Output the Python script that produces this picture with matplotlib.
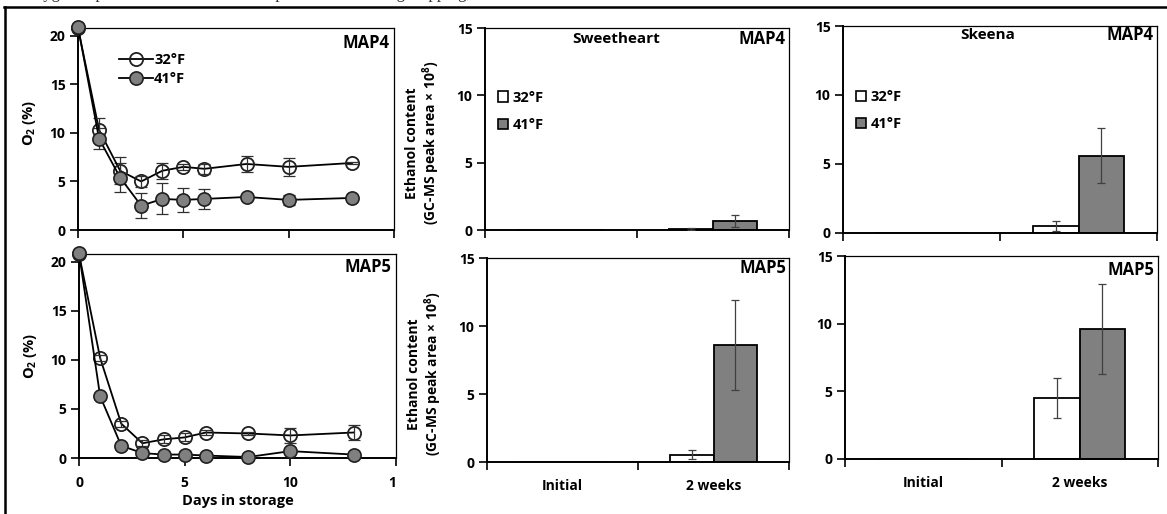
import matplotlib.pyplot as plt
from matplotlib.patches import Patch, Rectangle
from matplotlib.lines import Line2D

plt.rcParams['font.family'] = ['Open Sans', 'DejaVu Sans']
plt.rcParams['font.weight'] = 'bold'
plt.rcParams['axes.labelweight'] = 'bold'
plt.rcParams['mathtext.fontset'] = 'custom'
plt.rcParams['mathtext.rm'] = 'Open Sans:bold'
plt.rcParams['mathtext.it'] = 'Open Sans:bold'
plt.rcParams['mathtext.bf'] = 'Open Sans:bold'

# O2 inside the bags over storage time
days = [0, 1, 2, 3, 4, 5, 6, 8, 10, 13]
map4_32 = [20.8, 10.3, 6.1, 5.0, 6.1, 6.5, 6.3, 6.8, 6.5, 6.9]
map4_32_err = [0.1, 1.2, 1.4, 0.6, 0.8, 0.3, 0.5, 0.8, 0.9, 0.1]
map4_41 = [20.9, 9.4, 5.4, 2.5, 3.2, 3.1, 3.2, 3.4, 3.1, 3.3]
map4_41_err = [0.1, 1.1, 1.5, 1.3, 1.6, 1.2, 1.0, 0.2, 0.5, 0.1]
map5_32 = [20.8, 10.2, 3.5, 1.5, 1.9, 2.1, 2.6, 2.5, 2.3, 2.6]
map5_32_err = [0.1, 0.3, 0.3, 0.3, 0.4, 0.4, 0.3, 0.2, 0.8, 0.8]
map5_41 = [20.9, 6.3, 1.25, 0.5, 0.35, 0.35, 0.25, 0.1, 0.7, 0.35]
map5_41_err = [0.1, 0.2, 0.2, 0.1, 0.1, 0.1, 0.1, 0.1, 0.2, 0.1]

# ethanol content, initial vs 2 weeks
periods = ['Initial', '2 weeks']
sw_map4_32 = [0, 0.08]
sw_map4_32_err = [0, 0.05]
sw_map4_41 = [0, 0.65]
sw_map4_41_err = [0, 0.45]
sw_map5_32 = [0, 0.55]
sw_map5_32_err = [0, 0.3]
sw_map5_41 = [0, 8.6]
sw_map5_41_err = [0, 3.3]
sk_map4_32 = [0, 0.53]
sk_map4_32_err = [0, 0.37]
sk_map4_41 = [0, 5.6]
sk_map4_41_err = [0, 2.0]
sk_map5_32 = [0, 4.5]
sk_map5_32_err = [0, 1.5]
sk_map5_41 = [0, 9.6]
sk_map5_41_err = [0, 3.3]

W, H = 1167, 514
fig = plt.figure(figsize=(W / 100, H / 100), dpi=100)

TICK_FS = 10
LABEL_FS = 10.5
TAG_FS = 12


def px_axes(x0, y0, x1, y1):
    return fig.add_axes([x0 / W, 1 - y1 / H, (x1 - x0) / W, (y1 - y0) / H])


def style_box(ax):
    for s in ['left', 'bottom']:
        ax.spines[s].set_linewidth(1.4)
    for s in ['top', 'right']:
        ax.spines[s].set_linewidth(0.9)
    ax.tick_params(which='major', direction='out', length=6, width=1.2,
                   labelsize=TICK_FS, pad=3)


def o2_panel(ax, y32, e32, y41, e41, tag, tag_y, bottom):
    style_box(ax)
    ax.plot(days, y32, '-o', color='black', lw=1.3, ms=9.5, mfc='none',
            mec='#202020', mew=1.3, zorder=3, clip_on=False, label='32°F')
    ax.errorbar(days, y32, yerr=e32, fmt='none', ecolor='#303030',
                elinewidth=0.9, capsize=4, capthick=0.9, zorder=3.5)
    ax.errorbar(days, y41, yerr=e41, fmt='none', ecolor='#303030',
                elinewidth=0.9, capsize=4, capthick=0.9, zorder=2)
    ax.plot(days, y41, '-o', color='black', lw=1.3, ms=9.5, mfc='#808080',
            mec='#202020', mew=1.2, zorder=4, clip_on=False, label='41°F')
    ax.set_xlim(0, 15)
    ax.set_ylim(0, 20.8)
    ax.set_xticks([0, 5, 10, 15])
    ax.set_yticks([0, 5, 10, 15, 20])
    ax.set_ylabel('O$_2$ (%)', fontsize=LABEL_FS)
    ax.yaxis.set_label_coords(-0.127, 0.53 if not bottom else 0.5)
    ax.text(0.985, tag_y, tag, transform=ax.transAxes, ha='right', va='center',
            fontsize=TAG_FS)
    if bottom:
        ax.tick_params(axis='x', pad=7)
        ax.set_xlabel('Days in storage', fontsize=LABEL_FS, labelpad=3)
    else:
        ax.tick_params(axis='x', labelbottom=False)
        ax.legend(loc='upper left', bbox_to_anchor=(0.13, 0.875), frameon=False,
                  fontsize=LABEL_FS, handlelength=2.3, handletextpad=0.1,
                  borderpad=0, borderaxespad=0, labelspacing=0.3)


def bar_panel(ax, v32, e32, v41, e41, tag, tag_y, cultivar, cult_x, bottom,
              ylab, legend):
    style_box(ax)
    pos = range(len(periods))
    w = 0.29
    ax.bar([p - w / 2 for p in pos], v32, width=w, color='white',
           edgecolor='black', linewidth=1.3, zorder=2)
    ax.bar([p + w / 2 for p in pos], v41, width=w, color='#808080',
           edgecolor='black', linewidth=1.3, zorder=2)
    ax.errorbar([p - w / 2 for p in pos][1:], v32[1:], yerr=e32[1:], fmt='none',
                ecolor='#404040', elinewidth=0.9, capsize=3, capthick=0.9, zorder=3)
    ax.errorbar([p + w / 2 for p in pos][1:], v41[1:], yerr=e41[1:], fmt='none',
                ecolor='#404040', elinewidth=0.9, capsize=3, capthick=0.9, zorder=3)
    ax.set_xlim(-0.5, 1.5)
    ax.set_ylim(0, 15)
    ax.set_yticks([0, 5, 10, 15])
    ax.set_xticks([-0.5, 0.5, 1.5])
    ax.set_xticklabels([])
    ax.set_xticks([0, 1], minor=True)
    ax.set_xticklabels(periods, minor=True, fontsize=TICK_FS)
    ax.tick_params(axis='x', which='minor', length=0, pad=12,
                   labelbottom=bottom)
    if ylab:
        ax.set_ylabel('Ethanol content\n(GC-MS peak area × 10$^8$)',
                      fontsize=LABEL_FS - 0.5, linespacing=1.1)
        ax.yaxis.set_label_coords(-0.141, 0.43)
    ax.text(0.99, tag_y, tag, transform=ax.transAxes, ha='right', va='center',
            fontsize=TAG_FS)
    if cultivar:
        ax.text(cult_x, tag_y, cultivar, transform=ax.transAxes, ha='center',
                va='center', fontsize=LABEL_FS + 0.5)
    if legend:
        handles = [Patch(facecolor='white', edgecolor='black', lw=1.2, label='32°F'),
                   Patch(facecolor='#808080', edgecolor='black', lw=1.2, label='41°F')]
        ax.legend(handles=handles, loc='upper left', bbox_to_anchor=(0.042, 0.69),
                  frameon=False, fontsize=LABEL_FS, handlelength=0.7,
                  handleheight=0.7, handletextpad=0.3, borderpad=0,
                  borderaxespad=0, labelspacing=0.9)


ax1 = px_axes(78, 28, 394, 230)
o2_panel(ax1, map4_32, map4_32_err, map4_41, map4_41_err, 'MAP4', 0.926, False)
ax2 = px_axes(79, 254, 396, 458)
o2_panel(ax2, map5_32, map5_32_err, map5_41, map5_41_err, 'MAP5', 0.936, True)

ax3 = px_axes(485, 28, 789, 230)
bar_panel(ax3, sw_map4_32, sw_map4_32_err, sw_map4_41, sw_map4_41_err,
          'MAP4', 0.945, 'Sweetheart', 0.43, False, True, True)
ax4 = px_axes(487, 258, 789, 462)
bar_panel(ax4, sw_map5_32, sw_map5_32_err, sw_map5_41, sw_map5_41_err,
          'MAP5', 0.951, None, 0, True, True, False)
ax5 = px_axes(843, 26, 1157, 233)
bar_panel(ax5, sk_map4_32, sk_map4_32_err, sk_map4_41, sk_map4_41_err,
          'MAP4', 0.956, 'Skeena', 0.46, False, False, True)
ax6 = px_axes(845, 256, 1158, 459)
bar_panel(ax6, sk_map5_32, sk_map5_32_err, sk_map5_41, sk_map5_41_err,
          'MAP5', 0.93, None, 0, True, False, False)

# white area of the middle column sits over the end of the day axis
fig.add_artist(Rectangle((396 / W, 1 - 492 / H), 30 / W, 20 / H,
                         transform=fig.transFigure, facecolor='white',
                         edgecolor='none', zorder=5))

# caption line running off the top, and the frame around the figure
fig.text(0.02, 1 + 1.5 / H, 'Oxygen depletion and ethanol build-up in cherries during '
         'shipping, 32°F and 41°F', family=['Liberation Serif'], fontsize=12,
         fontweight='normal', va='baseline', color='#333333')
fig.add_artist(Line2D([4 / W, 1], [1 - 7 / H, 1 - 7 / H], color='black', lw=1.8,
                      transform=fig.transFigure))
fig.add_artist(Line2D([5 / W, 5 / W], [0, 1 - 7 / H], color='black', lw=1.8,
                      transform=fig.transFigure))

fig.savefig('out.png', dpi=100)
